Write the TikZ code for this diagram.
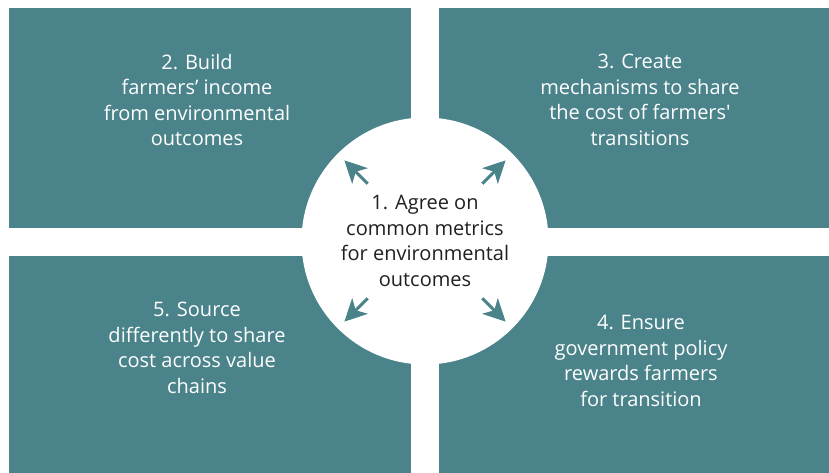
\documentclass[tikz,border=0pt]{standalone}
\usepackage{fontspec}
\setmainfont{Open Sans}[Ligatures=TeXOff]
\usepackage{xcolor}
\usetikzlibrary{arrows.meta,positioning}

\definecolor{teal}{RGB}{74,131,138}
\definecolor{ink}{RGB}{35,31,32}

\tikzset{
  panel/.style={fill=teal},
  paneltext/.style={text=white,align=center,font=\fontsize{20}{25.5}\selectfont},
  hub/.style={circle,fill=white,minimum size=247pt,inner sep=0pt,
    text=ink,align=center,font=\fontsize{20}{25.5}\selectfont},
  spoke/.style={draw=teal,line width=3pt,-{Stealth[length=22pt,width=22pt,inset=6pt]}}
}

\begin{document}
\begin{tikzpicture}[x=1pt,y=-1pt]
\useasboundingbox (0,0) rectangle (829,473);

%Panels
\fill [panel] (9,8) rectangle (411,228);
\fill [panel] (439,8) rectangle (829,228);
\fill [panel] (9,256) rectangle (411,473);
\fill [panel] (439,256) rectangle (829,473);

%Panel texts
\node [paneltext] (build) at (197,100) {2. Build\\farmers’ income\\from environmental\\outcomes};
\node [paneltext] (create) at (640,100) {3. Create\\mechanisms to share\\the cost of farmers'\\transitions};
\node [paneltext] (source) at (197,348) {5. Source\\differently to share\\cost across value\\chains};
\node [paneltext] (ensure) at (641,361) {4. Ensure\\government policy\\rewards farmers\\for transition};

%Centre
\node [hub] (agree) at (425,241) {1. Agree on\\common metrics\\for environmental\\outcomes};

%Arrows
\foreach \ang in {45,135,225,315}{
  \path (agree.center) ++(\ang:81) coordinate (tail\ang) ++(\ang:33) coordinate (tip\ang);
  \draw [spoke] (tail\ang) -- (tip\ang);
}
\end{tikzpicture}
\end{document}
